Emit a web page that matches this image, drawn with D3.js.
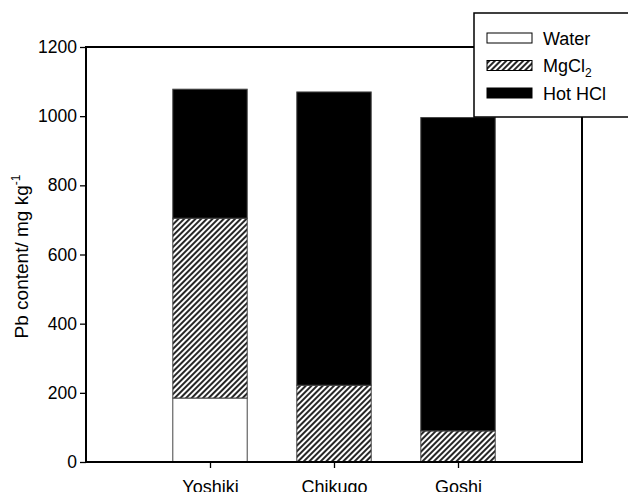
<!DOCTYPE html>
<html>
<head>
<meta charset="utf-8">
<script src="https://cdn.jsdelivr.net/npm/d3@7"></script>
<style>
  html, body { margin: 0; padding: 0; background: #fff; }
  svg { display: block; font-family: "Liberation Sans", Arial, sans-serif; }
</style>
</head>
<body>
<svg id="chart" width="628" height="492"></svg>
<script>
// Pb fractions per site (mg/kg), stacked bottom to top
const sites = ["Yoshiki", "Chikugo", "Goshi"];
const water = [185, 0, 0];
const mgcl2 = [520, 222, 90];
const hotHCl = [373, 848, 906];
const yTicks = [0, 200, 400, 600, 800, 1000, 1200];
const seriesNames = ["Water", "MgCl2", "Hot HCl"];

(function draw() {
  const svg = d3.select("#chart");
  const pLeft = 86, pRight = 582, pTop = 47, pBottom = 462;

  const x = d3.scaleLinear().domain([0, sites.length + 1]).range([pLeft, pRight]);
  const y = d3.scaleLinear().domain([0, 1200]).range([pBottom, pTop]);
  const barW = (x(1) - x(0)) * 0.6;

  // diagonal hatch
  const defs = svg.append("defs");
  const pat = defs.append("pattern")
    .attr("id", "hatch")
    .attr("patternUnits", "userSpaceOnUse")
    .attr("width", 4).attr("height", 4)
    .attr("patternTransform", "rotate(45)");
  pat.append("rect").attr("width", 4).attr("height", 4).attr("fill", "#fff");
  pat.append("line").attr("x1", 1).attr("y1", 0).attr("x2", 1).attr("y2", 4)
    .attr("stroke", "#000").attr("stroke-width", 1.7);

  const fills = ["#fff", "url(#hatch)", "#000"];
  const layers = [water, mgcl2, hotHCl];

  // stacked bars
  sites.forEach((s, i) => {
    let base = 0;
    layers.forEach((arr, k) => {
      const v = arr[i];
      if (v > 0) {
        svg.append("rect")
          .attr("x", x(i + 1) - barW / 2)
          .attr("width", barW)
          .attr("y", y(base + v))
          .attr("height", y(base) - y(base + v))
          .attr("fill", fills[k])
          .attr("stroke", "#444")
          .attr("stroke-width", 1);
      }
      base += v;
    });
  });

  // frame
  svg.append("rect")
    .attr("x", pLeft).attr("y", pTop)
    .attr("width", pRight - pLeft).attr("height", pBottom - pTop)
    .attr("fill", "none").attr("stroke", "#000").attr("stroke-width", 2);

  // y axis
  const yAxis = svg.append("g")
    .attr("transform", `translate(${pLeft},0)`)
    .call(d3.axisLeft(y).tickValues(yTicks).tickSize(6).tickPadding(3).tickFormat(d3.format("d")));
  yAxis.select(".domain").remove();
  yAxis.selectAll(".tick line").attr("stroke", "#000").attr("stroke-width", 1.3);
  yAxis.selectAll(".tick text").attr("font-size", 17.5).attr("fill", "#000")
    .attr("font-family", "'Liberation Sans', Arial, sans-serif");

  // x axis
  const xAxis = svg.append("g")
    .attr("transform", `translate(0,${pBottom})`)
    .call(d3.axisBottom(x).tickValues(sites.map((s, i) => i + 1)).tickSize(6).tickPadding(12)
      .tickFormat((d) => sites[d - 1]));
  xAxis.select(".domain").remove();
  xAxis.selectAll(".tick line").attr("stroke", "#000").attr("stroke-width", 1.3);
  xAxis.selectAll(".tick text").attr("font-size", 18).attr("fill", "#000")
    .attr("font-family", "'Liberation Sans', Arial, sans-serif");

  // y axis title
  const yt = svg.append("text")
    .attr("transform", `translate(28,${(pTop + pBottom) / 2 + 2}) rotate(-90)`)
    .attr("text-anchor", "middle")
    .attr("font-size", 19)
    .attr("fill", "#000");
  yt.append("tspan").text("Pb content/ mg kg");
  yt.append("tspan").attr("font-size", 12).attr("dy", -8).text("-1");

  // legend
  const lg = svg.append("g");
  lg.append("rect").attr("x", 474).attr("y", 13).attr("width", 160).attr("height", 104)
    .attr("fill", "#fff").attr("stroke", "#000").attr("stroke-width", 1.5);
  seriesNames.forEach((name, k) => {
    const cy = 38 + k * 27.5;
    lg.append("rect").attr("x", 487).attr("y", cy - 5).attr("width", 45).attr("height", 10)
      .attr("fill", fills[k]).attr("stroke", "#000").attr("stroke-width", 1);
    const t = lg.append("text").attr("x", 543).attr("y", cy + 6.5)
      .attr("font-size", 18).attr("fill", "#000");
    if (name === "MgCl2") {
      t.append("tspan").text("MgCl");
      t.append("tspan").attr("font-size", 12).attr("dy", 5).text("2");
    } else {
      t.text(name);
    }
  });
})();
</script>
</body>
</html>
